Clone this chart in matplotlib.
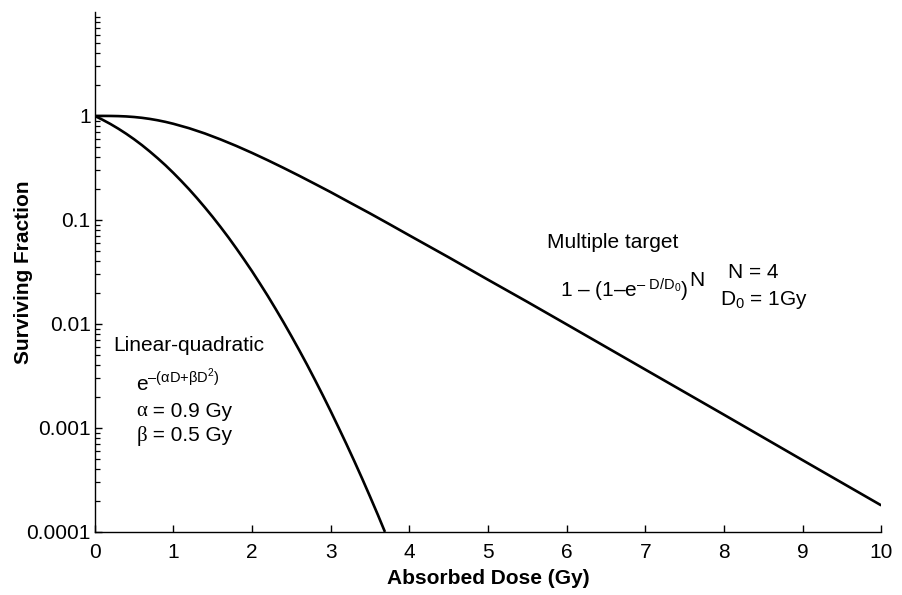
import matplotlib.pyplot as plt
import matplotlib.ticker as mticker

plt.rcParams['font.family'] = ['Liberation Sans', 'DejaVu Sans']
plt.rcParams['mathtext.fontset'] = 'custom'
plt.rcParams['mathtext.rm'] = 'Liberation Sans'
plt.rcParams['mathtext.it'] = 'Liberation Sans'
plt.rcParams['mathtext.bf'] = 'Liberation Sans:bold'

# values
dose_mt = [0, 0.1, 0.2, 0.3, 0.4, 0.5, 0.6, 0.7, 0.8, 0.9, 1.0, 1.2, 1.4, 1.6,
           1.8, 2.0, 2.2, 2.4, 2.6, 2.8, 3.0, 3.25, 3.5, 3.75, 4.0, 4.5, 5.0,
           5.5, 6.0, 7.0, 8.0, 9.0, 10.0]
surv_mt = [1.0, 0.99992, 0.9989, 0.9955, 0.9882, 0.976, 0.9586, 0.9358, 0.908,
           0.876, 0.84, 0.7615, 0.678, 0.594, 0.5146, 0.441, 0.3748, 0.3164,
           0.2657, 0.2219, 0.185, 0.146, 0.1155, 0.0907, 0.071, 0.0437, 0.0266,
           0.0163, 0.0099, 0.00364, 0.00134, 0.00049, 0.00018]

dose_lq = [0, 0.1, 0.2, 0.3, 0.4, 0.5, 0.6, 0.7, 0.8, 0.9, 1.0, 1.1, 1.2, 1.3,
           1.4, 1.5, 1.6, 1.7, 1.8, 1.9, 2.0, 2.1, 2.2, 2.3, 2.4, 2.5, 2.6, 2.7,
           2.8, 2.9, 3.0, 3.1, 3.2, 3.3, 3.4, 3.5, 3.6, 3.69]
surv_lq = [1.0, 0.918, 0.836, 0.754, 0.674, 0.597, 0.524, 0.455, 0.392, 0.335,
           0.283, 0.237, 0.197, 0.162, 0.132, 0.1068, 0.0855, 0.0679, 0.0533,
           0.0415, 0.0321, 0.0245, 0.0186, 0.01395, 0.01038, 0.00765, 0.00559,
           0.00405, 0.0029, 0.00206, 0.00145, 0.00101, 0.0007, 0.00048,
           0.000326, 0.000219, 0.000146, 0.0001]

y_ticks = [0.0001, 0.001, 0.01, 0.1, 1]
y_labels = ['0.0001', '0.001', '0.01', '0.1', '1']
x_ticks = list(range(0, 11))

fig = plt.figure(figsize=(9.02, 5.95), dpi=100)
ax = fig.add_axes([0.105, 0.106, 0.872, 0.874])

ax.plot(dose_mt, surv_mt, color='black', lw=1.9, solid_capstyle='butt')
ax.plot(dose_lq, surv_lq, color='black', lw=1.9, solid_capstyle='butt')

ax.set_yscale('log')
ax.set_xlim(0, 10)
ax.set_ylim(1e-4, 10)
ax.set_xticks(x_ticks)
ax.set_yticks(y_ticks)
ax.yaxis.set_major_formatter(mticker.FixedFormatter(y_labels))
ax.yaxis.set_minor_locator(mticker.LogLocator(base=10, subs=range(2, 10), numticks=20))
ax.yaxis.set_minor_formatter(mticker.NullFormatter())

for s in ['top', 'right']:
    ax.spines[s].set_visible(False)
for s in ['left', 'bottom']:
    ax.spines[s].set_linewidth(1.0)

ax.tick_params(axis='both', which='major', direction='in', length=5, width=1.0, labelsize=15)
ax.tick_params(axis='y', which='minor', direction='in', length=3.5, width=0.9)
ax.tick_params(axis='x', which='major', pad=8)
ax.tick_params(axis='y', which='major', pad=3)

ax.set_xlabel('Absorbed Dose (Gy)', fontsize=15, fontweight='bold', labelpad=5)
ax.set_ylabel('Surviving Fraction', fontsize=15, fontweight='bold')
ax.yaxis.set_label_coords(-0.078, 0.5)

# annotations
ax.text(5.75, 0.060, 'Multiple target', fontsize=15, va='center', ha='left')
f_txt = ax.text(5.92, 0.0212, r'$\mathregular{1\ \endash\ (1\endash e^{\endash\ D/D_0})}$',
                fontsize=15, va='center', ha='left')
ax.annotate('N', xy=(1, 0.5), xycoords=f_txt, xytext=(0.5, 7),
            textcoords='offset points', va='center', ha='left', fontsize=15)
ax.text(8.05, 0.031, 'N = 4', fontsize=15, va='center', ha='left')
ax.text(7.95, 0.017, r'$\mathregular{D_0}$ = 1Gy', fontsize=15, va='center', ha='left')

ax.text(0.23, 0.0062, 'Linear-quadratic', fontsize=15, va='center', ha='left')
ax.text(0.53, 0.0028, r'$\mathregular{e^{\endash(\alpha D{+}\beta D^2)}}$',
        fontsize=15, va='center', ha='left')
a_txt = ax.text(0.53, 0.00145, '\u03b1', fontsize=15, va='center', ha='left',
                family='Liberation Serif')
ax.annotate(' = 0.9 Gy', xy=(1, 0.5), xycoords=a_txt, va='center', ha='left', fontsize=15)
b_txt = ax.text(0.53, 0.00084, '\u03b2', fontsize=15, va='center', ha='left',
                family='Liberation Serif')
ax.annotate(' = 0.5 Gy', xy=(1, 0.5), xycoords=b_txt, va='center', ha='left', fontsize=15)

fig.savefig('out.png', dpi=100)
